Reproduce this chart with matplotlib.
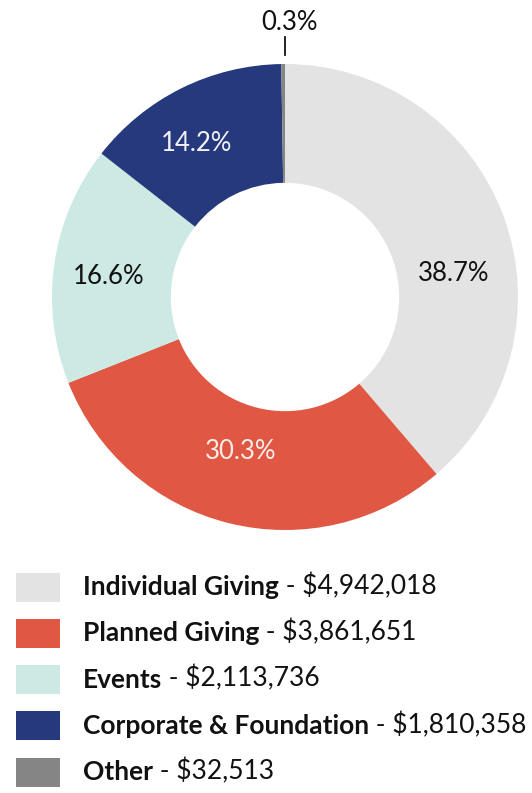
import numpy as np
import matplotlib
matplotlib.use('Agg')
import matplotlib.pyplot as plt
from matplotlib.patches import Rectangle

plt.rcParams['font.family'] = ['Lato', 'DejaVu Sans']

# data
names = ['Individual Giving', 'Planned Giving', 'Events', 'Corporate & Foundation', 'Other']
amounts = [4942018, 3861651, 2113736, 1810358, 32513]
colors = ['#e3e3e3', '#e05744', '#cde9e3', '#25397c', '#858585']
pct_labels = ['38.7%', '30.3%', '16.6%', '14.2%', '0.3%']
label_colors = ['#111111', '#fbeeea', '#111111', '#f2f2f7', '#111111']
# where each percent label sits (angle in degrees, radius) - layout only
label_pos = [(8, 0.73), (-106, 0.69), (173.5, 0.76), (120, 0.76), None]

W, H = 532, 793
fig = plt.figure(figsize=(W / 100, H / 100), dpi=100)

# donut: centre at (285, 297) px from top-left, radius 233 px
cx, cy, R = 285, 297, 233
ax = fig.add_axes([0, 200 / H, 1, (H - 200) / H])
wedges, _ = ax.pie(amounts, colors=colors, startangle=90, counterclock=False,
                   radius=1, wedgeprops=dict(width=0.51, edgecolor='none'))
ax.set_xlim(-cx / R, (W - cx) / R)
ax.set_ylim((200 - (H - cy)) / R, cy / R)
ax.axis('off')

for txt, col, pos in zip(pct_labels, label_colors, label_pos):
    if pos is None:
        continue
    a, r = pos
    ax.text(r * np.cos(np.radians(a)), r * np.sin(np.radians(a)), txt,
            ha='center', va='center', fontsize=18.5, color=col)

# the tiny "Other" slice gets a leader tick above the ring
ax.plot([0, 0], [1.04, 1.115], color='#111111', lw=1.3)
ax.text(0.02, 1.18, pct_labels[-1], ha='center', va='center', fontsize=18.5, color='#111111')

# legend
lax = fig.add_axes([0, 0, 1, 1])
lax.set_xlim(0, W)
lax.set_ylim(H, 0)
lax.axis('off')
for i, (name, amt, col) in enumerate(zip(names, amounts, colors)):
    yc = 587 + i * 46.3
    lax.add_patch(Rectangle((16, yc - 14.5), 44, 29, color=col, lw=0))
    t1 = lax.text(83, yc, name, fontweight='bold', fontsize=19, va='center', ha='left', color='#111111')
    lax.annotate(' - ${:,}'.format(amt), xy=(1, 0), xycoords=t1, va='bottom', ha='left',
                 fontsize=19, color='#111111')

fig.savefig('out.png', dpi=100)
